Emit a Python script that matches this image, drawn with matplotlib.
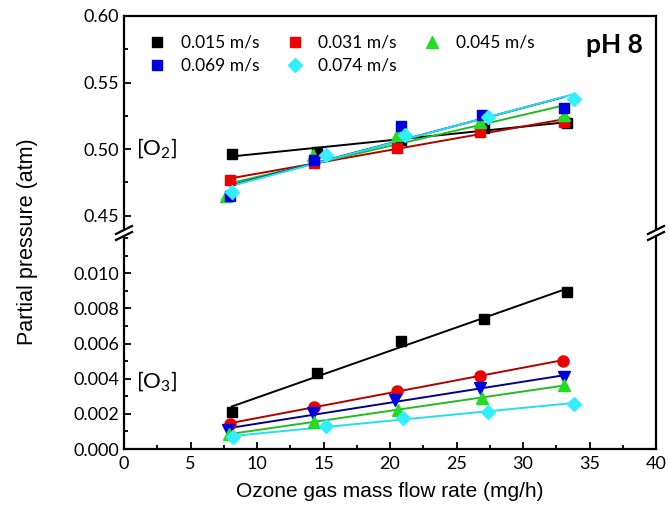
import matplotlib
matplotlib.use("Agg")
import matplotlib.pyplot as plt
import numpy as np
from matplotlib.lines import Line2D
from matplotlib.ticker import MultipleLocator, FormatStrFormatter

# velocities (legend labels)
labels = ["0.015 m/s", "0.031 m/s", "0.045 m/s", "0.069 m/s", "0.074 m/s"]

# O2 partial pressure (atm), upper panel
o2_x = [
    [8.1, 14.5, 20.8, 27.1, 33.3],
    [8.0, 14.3, 20.5, 26.8, 33.1],
    [7.7, 14.2, 20.5, 26.8, 33.1],
    [8.0, 14.3, 20.8, 26.9, 33.1],
    [8.1, 15.2, 21.1, 27.4, 33.8],
]
o2_y = [
    [0.4963, 0.4982, 0.5070, 0.5162, 0.5195],
    [0.4770, 0.4895, 0.5008, 0.5132, 0.5207],
    [0.4645, 0.4957, 0.5107, 0.5207, 0.5257],
    [0.4645, 0.4920, 0.5175, 0.5257, 0.5307],
    [0.4675, 0.4957, 0.5107, 0.5245, 0.5380],
]

# O3 partial pressure (atm), lower panel
o3_x = [
    [8.1, 14.5, 20.8, 27.1, 33.3],
    [8.0, 14.3, 20.5, 26.8, 33.0],
    [7.8, 14.2, 20.4, 26.8, 33.1],
    [7.9, 14.3, 20.6, 26.9, 33.1],
    [8.2, 15.2, 21.0, 27.4, 33.8],
]
o3_y = [
    [0.00211, 0.00433, 0.00612, 0.00742, 0.00894],
    [0.00145, 0.00239, 0.00328, 0.00418, 0.00503],
    [0.00107, 0.00202, 0.00277, 0.00346, 0.00412],
    [0.00085, 0.00154, 0.00224, 0.00292, 0.00362],
    [0.00066, 0.00132, 0.00177, 0.00211, 0.00258],
]

marker_colors = ["#000000", "#ee0000", "#22dd22", "#0000dd", "#33eeff"]
line_colors = ["#000000", "#b00000", "#22bb22", "#00008c", "#22e0ee"]
o2_markers = ["s", "s", "^", "s", "D"]
o2_sizes = [7, 7, 8, 7, 7]
# lower panel: black, red, blue, green, cyan (same order as o3 arrays)
o3_colors = ["#000000", "#ee0000", "#0000dd", "#22dd22", "#33eeff"]
o3_lines = ["#000000", "#b00000", "#00008c", "#22bb22", "#22e0ee"]
o3_markers = ["s", "o", "v", "^", "D"]
o3_sizes = [7, 8, 8, 8, 7]

plt.rcParams["font.family"] = ["Lato", "DejaVu Sans"]
plt.rcParams["mathtext.fontset"] = "custom"
plt.rcParams["mathtext.rm"] = "Lato"
plt.rcParams["mathtext.it"] = "Lato:italic"

W, H = 669, 515
fig = plt.figure(figsize=(W / 100, H / 100), dpi=100)

left, right = 124, 656
up_top, up_bot = 16, 229
lo_top, lo_bot = 238, 449
ax_up = fig.add_axes([left / W, 1 - up_bot / H, (right - left) / W, (up_bot - up_top) / H])
ax_lo = fig.add_axes([left / W, 1 - lo_bot / H, (right - left) / W, (lo_bot - lo_top) / H])


def fit_line(ax, x, y, color):
    x = np.asarray(x)
    k, b = np.polyfit(x, y, 1)
    xs = np.array([x.min(), x.max()])
    ax.plot(xs, k * xs + b, color=color, lw=1.4, zorder=2)


handles = []
for i in range(5):
    h, = ax_up.plot(o2_x[i], o2_y[i], ls="none", marker=o2_markers[i],
                    ms=o2_sizes[i], color=marker_colors[i], mec=marker_colors[i],
                    zorder=3, label=labels[i])
    fit_line(ax_up, o2_x[i], o2_y[i], line_colors[i])
    handles.append(h)

for i in range(5):
    ax_lo.plot(o3_x[i], o3_y[i], ls="none", marker=o3_markers[i],
               ms=o3_sizes[i], color=o3_colors[i], mec=o3_colors[i], zorder=3)
    fit_line(ax_lo, o3_x[i], o3_y[i], o3_lines[i])

for ax in (ax_up, ax_lo):
    ax.set_xlim(0, 40)
    for s in ax.spines.values():
        s.set_linewidth(1.6)
    ax.tick_params(which="both", direction="in", right=False, top=False,
                   labelsize=13, width=1.3)
    ax.tick_params(which="major", length=5)
    ax.tick_params(which="minor", length=3)
    ax.tick_params(axis="x", pad=5)
    ax.xaxis.set_major_locator(MultipleLocator(5))
    ax.xaxis.set_minor_locator(MultipleLocator(2.5))

ax_up.set_ylim(0.44, 0.60)
ax_up.yaxis.set_major_locator(MultipleLocator(0.05))
ax_up.yaxis.set_minor_locator(MultipleLocator(0.025))
ax_up.yaxis.set_major_formatter(FormatStrFormatter("%.2f"))
ax_up.spines["bottom"].set_visible(False)
ax_up.tick_params(axis="x", which="both", bottom=False, labelbottom=False)

ax_lo.set_ylim(0, 0.012)
ax_lo.yaxis.set_major_locator(MultipleLocator(0.002))
ax_lo.yaxis.set_minor_locator(MultipleLocator(0.001))
ax_lo.yaxis.set_major_formatter(FormatStrFormatter("%.3f"))
ax_lo.spines["top"].set_visible(False)
ax_lo.set_yticks([0, 0.002, 0.004, 0.006, 0.008, 0.010])
ax_lo.set_xlabel("Ozone gas mass flow rate (mg/h)", family="Liberation Sans",
                 fontsize=15, labelpad=7)

fig.text(28 / W, 1 - 242 / H, "Partial pressure (atm)", rotation=90,
         family="Liberation Sans", fontsize=15.5, ha="center", va="center")

# axis break marks
for xp in (left, right):
    for yp in (up_bot + 1, lo_top - 2):
        fig.add_artist(Line2D([(xp - 8) / W, (xp + 8) / W],
                              [1 - (yp + 4) / H, 1 - (yp - 4) / H],
                              color="black", lw=1.6))

order = [0, 3, 1, 4, 2]
ax_up.legend([handles[i] for i in order], [labels[i] for i in order],
             ncol=3, loc="upper left", bbox_to_anchor=(0.015, 0.985),
             frameon=False, fontsize=12.5, handletextpad=0.8,
             columnspacing=1.5, handlelength=1.1, labelspacing=0.4)

ax_up.text(0.975, 0.862, "pH 8", transform=ax_up.transAxes, ha="right",
           va="center", fontsize=19, fontweight="bold")
ax_up.text(0.022, 0.38, "[O$_2$]", transform=ax_up.transAxes, fontsize=16,
           va="center")
ax_lo.text(0.022, 0.32, "[O$_3$]", transform=ax_lo.transAxes, fontsize=16,
           va="center")

fig.savefig("out.png", dpi=100)
